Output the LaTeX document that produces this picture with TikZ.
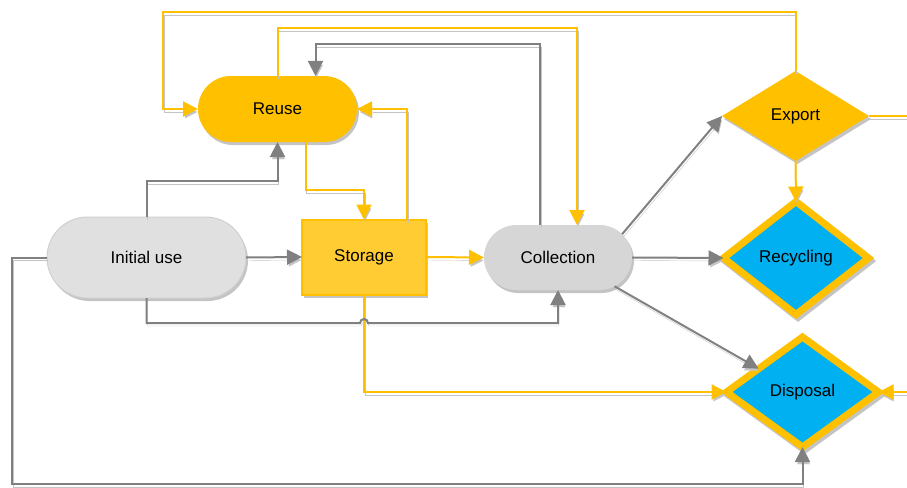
\documentclass[tikz,border=0pt]{standalone}
\usepackage{fontspec}
\setmainfont{Liberation Sans}
\usetikzlibrary{arrows.meta,shapes.geometric,shapes.misc,shadows,calc}

\definecolor{amber}{HTML}{FFC000}
\definecolor{amberlight}{HTML}{FFCC33}
\definecolor{linegray}{HTML}{808080}
\definecolor{shadegray}{HTML}{C4C4C4}
\definecolor{pillgray}{HTML}{E0E0E0}
\definecolor{pillgraydark}{HTML}{D6D6D6}
\definecolor{pillborder}{HTML}{D0D0D0}
\definecolor{skyblue}{HTML}{00B0F0}

\tikzset{
  every node/.style={outer sep=0pt, inner sep=0pt, font=\fontsize{17}{20}\selectfont},
  nodeshadow/.style={drop shadow={shadow xshift=2pt, shadow yshift=-3pt, fill=shadegray, opacity=1}},
  pill/.style={rounded rectangle, nodeshadow},
  boxnode/.style={rectangle, nodeshadow},
  decision/.style={diamond, fill=amber, nodeshadow},
  outcome/.style={diamond, fill=skyblue, draw=amber, line width=7pt, line join=miter,
    drop shadow={shadow xshift=2pt, shadow yshift=-3pt, fill=shadegray, draw=shadegray, line width=7pt, opacity=1}},
  flow/.style={line width=2pt, -{Triangle[length=15pt,width=15pt]},
    preaction={draw=shadegray, transform canvas={shift={(1pt,-3pt)}}}},
  gline/.style={flow, draw=linegray},
  yline/.style={flow, draw=amber},
  plain/.style={line width=2pt,
    preaction={draw=shadegray, transform canvas={shift={(1pt,-3pt)}}}},
}

\begin{document}
\begin{tikzpicture}[x=1pt, y=-1pt]
  \useasboundingbox (0,0) rectangle (907,487);

  % process nodes
  \node[pill, fill=amber, minimum width=159pt, minimum height=66pt] (reuse) at (277.5,109) {Reuse};
  \node[pill, fill=pillgray, draw=pillborder, line width=1pt, minimum width=199pt, minimum height=81pt] (initial) at (146.5,257.5) {Initial use};
  \node[boxnode, fill=amberlight, draw=amber, line width=2pt, minimum width=124pt, minimum height=75pt] (storage) at (364,257) {Storage};
  \node[pill, fill=pillgraydark, minimum width=148pt, minimum height=65pt] (collection) at (558,257.5) {Collection};

  % end points
  \node[decision, minimum width=147pt, minimum height=90pt] (export) at (795.5,116) {Export};
  \node[outcome, minimum width=145pt, minimum height=113pt] (recycling) at (796,258) {Recycling};
  \node[outcome, minimum width=152pt, minimum height=110pt] (disposal) at (802.5,392) {Disposal};

  % loose ends leaving the picture
  \coordinate (exportout) at (910,116);
  \coordinate (disposalin) at (910,392);
  \coordinate (topbend) at (163,12);
  \coordinate (bottombend) at (12,484);

  % amber connectors
  \draw[yline] (export.north) |- (topbend) |- (reuse.west);
  \draw[yline] (reuse.north) -- ++(0,-48) -| ([xshift=19pt]collection.north);
  \draw[yline] ([xshift=28pt]reuse.south) -- ++(0,48) -| (storage.north);
  \draw[yline] ([xshift=43pt]storage.north) |- (reuse.east);
  \draw[yline] (storage.east) -- (collection.west);
  \draw[yline] (storage.south) |- (disposal.west);
  \draw[yline] (export.south) -- (recycling.north);
  \draw[plain, draw=amber] (export.east) -- (exportout);
  \draw[yline] (disposalin) -- (disposal.east);

  % gray connectors
  \draw[gline] ([xshift=-18pt]collection.north) -- ++(0,-181) -| ([xshift=38pt]reuse.north);
  \draw[gline] (initial.north) -- ++(0,-36) -| (reuse.south);
  \draw[gline] (initial.east) -- (storage.west);
  \draw[gline] (initial.south) -- ++(0,25) coordinate (busstart)
    -- ($(busstart -| storage.south)+(-4,0)$)
    arc[start angle=180, end angle=0, radius=4pt]
    -| (collection.south);
  \draw[gline] (initial.west) -| (bottombend) -| (disposal.south);
  \draw[gline] (collection.20) -- (export.west);
  \draw[gline] (collection.east) -- (recycling.west);
  \draw[gline] (collection.-27) -- (disposal.152);
\end{tikzpicture}
\end{document}
